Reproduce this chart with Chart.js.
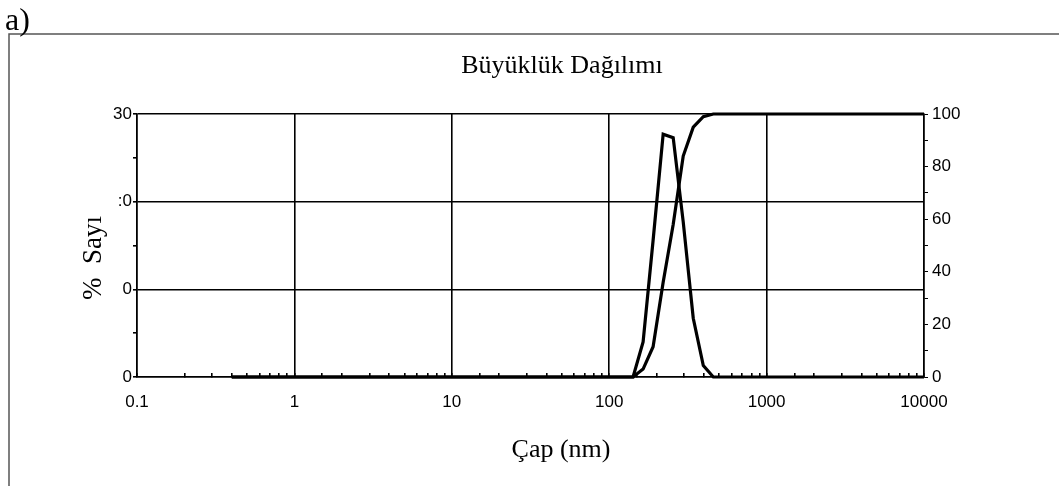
<!DOCTYPE html>
<html>
<head>
<meta charset="utf-8">
<script src="https://cdn.jsdelivr.net/npm/chart.js@4.4.1/dist/chart.umd.min.js"></script>
<style>
  html, body { margin: 0; padding: 0; background: #fff; }
</style>
</head>
<body>
<canvas id="sizeChart" width="1059" height="486"></canvas>
<script>
// size bins (nm)
const sizesNm = [
    0.4, 0.4632, 0.5365, 0.6213, 0.7195, 0.8332, 0.9649, 1.117, 1.294, 1.499,
    1.736, 2.01, 2.328, 2.696, 3.122, 3.615, 4.187, 4.849, 5.615, 6.503,
    7.531, 8.721, 10.1, 11.7, 13.54, 15.69, 18.17, 21.04, 24.36, 28.21,
    32.67, 37.84, 43.82, 50.75, 58.77, 68.06, 78.82, 91.28, 105.7, 122.4,
    141.8, 164.2, 190.1, 220.2, 255, 295.3, 342, 396.1, 458.7, 531.2,
    615.1, 712.4, 825, 955.4, 1106, 1281, 1484, 1718, 1990, 2305,
    2669, 3091, 3580, 4145, 4801, 5560, 6439, 7456, 8635, 10000
];
// % number (left axis)
const numberPct = [
    0, 0, 0, 0, 0, 0, 0, 0, 0, 0,
    0, 0, 0, 0, 0, 0, 0, 0, 0, 0,
    0, 0, 0, 0, 0, 0, 0, 0, 0, 0,
    0, 0, 0, 0, 0, 0, 0, 0, 0, 0,
    0, 4.0, 15.6, 27.7, 27.3, 17.7, 6.7, 1.3, 0, 0,
    0, 0, 0, 0, 0, 0, 0, 0, 0, 0,
    0, 0, 0, 0, 0, 0, 0, 0, 0, 0
];
// cumulative % (right axis)
const cumulativePct = [
    0, 0, 0, 0, 0, 0, 0, 0, 0, 0,
    0, 0, 0, 0, 0, 0, 0, 0, 0, 0,
    0, 0, 0, 0, 0, 0, 0, 0, 0, 0,
    0, 0, 0, 0, 0, 0, 0, 0, 0, 0,
    0, 3, 11.5, 36, 58, 84, 95, 99, 100, 100,
    100, 100, 100, 100, 100, 100, 100, 100, 100, 100,
    100, 100, 100, 100, 100, 100, 100, 100, 100, 100
];
const xTickLabels = ['0.1', '1', '10', '100', '1000', '10000'];
const leftTickLabels = ['0', '0', ':0', '30'];   // as printed (cut off) in the original
const rightTickLabels = ['0', '20', '40', '60', '80', '100'];

const panelLabel = 'a)';
const chartTitle = 'Büyüklük Dağılımı';
const xTitle = 'Çap (nm)';
const yTitle = '%  Sayı';

const serif = '"Liberation Serif", "Times New Roman", serif';
const sans = '"Liberation Sans", Arial, sans-serif';

function isDecade(v) {
    const l = Math.log10(v);
    return Math.abs(l - Math.round(l)) < 1e-6;
}

const decorations = {
    id: 'decorations',
    beforeDraw(chart) {
        const ctx = chart.ctx;
        ctx.save();
        ctx.fillStyle = '#fff';
        ctx.fillRect(0, 0, chart.width, chart.height);
        ctx.restore();
    },
    afterDraw(chart) {
        const ctx = chart.ctx;
        ctx.save();
        // frame
        ctx.strokeStyle = '#555';
        ctx.lineWidth = 1.5;
        ctx.beginPath();
        ctx.moveTo(9, 486);
        ctx.lineTo(9, 34);
        ctx.lineTo(1059, 34);
        ctx.stroke();

        ctx.fillStyle = '#000';
        ctx.textBaseline = 'alphabetic';
        ctx.font = '32px ' + serif;
        ctx.textAlign = 'left';
        ctx.fillText(panelLabel, 5, 30);

        ctx.textAlign = 'center';
        ctx.font = '26px ' + serif;
        ctx.fillText(chartTitle, 562, 73);
        ctx.fillText(xTitle, 561, 457);

        ctx.font = '27px ' + serif;
        ctx.translate(101, 258);
        ctx.rotate(-Math.PI / 2);
        ctx.fillText(yTitle, 0, 0);
        ctx.restore();
    }
};

const ctx = document.getElementById('sizeChart').getContext('2d');
new Chart(ctx, {
    type: 'line',
    data: {
        datasets: [
            {
                label: '% Sayı',
                data: sizesNm.map((s, i) => ({ x: s, y: numberPct[i] })),
                yAxisID: 'y',
                borderColor: '#000',
                borderWidth: 3.2,
                pointRadius: 0,
                tension: 0,
                fill: false,
                clip: 4
            },
            {
                label: 'Kümülatif',
                data: sizesNm.map((s, i) => ({ x: s, y: cumulativePct[i] })),
                yAxisID: 'y2',
                borderColor: '#000',
                borderWidth: 3.2,
                pointRadius: 0,
                tension: 0,
                fill: false,
                clip: 4
            }
        ]
    },
    options: {
        responsive: false,
        animation: false,
        layout: { padding: { top: 114, left: 0, right: 0, bottom: 69 } },
        plugins: {
            legend: { display: false },
            tooltip: { enabled: false },
            title: { display: false }
        },
        scales: {
            x: {
                type: 'logarithmic',
                min: 0.1,
                max: 10000,
                afterFit: (scale) => { scale.height = 40; },
                border: { color: '#000', width: 1.5 },
                grid: {
                    color: (c) => (c.tick && isDecade(c.tick.value)) ? '#000' : 'rgba(0,0,0,0)',
                    lineWidth: 1.6,
                    tickColor: '#000',
                    tickLength: -4
                },
                ticks: {
                    autoSkip: false,
                    maxRotation: 0,
                    padding: 19,
                    color: '#000',
                    font: { family: sans, size: 17 },
                    callback: (v) => isDecade(v) ? xTickLabels[Math.round(Math.log10(v)) + 1] : ''
                }
            },
            y: {
                position: 'left',
                min: 0,
                max: 30,
                afterFit: (scale) => { scale.width = 137; },
                border: { color: '#000', width: 1.5 },
                grid: {
                    color: (c) => (c.tick && c.tick.value % 10 === 0) ? '#000' : 'rgba(0,0,0,0)',
                    lineWidth: 1.6,
                    tickColor: '#000',
                    tickLength: 4
                },
                ticks: {
                    stepSize: 5,
                    padding: 1,
                    color: '#000',
                    font: { family: sans, size: 17 },
                    callback: (v) => v % 10 === 0 ? leftTickLabels[v / 10] : ''
                }
            },
            y2: {
                position: 'right',
                min: 0,
                max: 100,
                afterFit: (scale) => { scale.width = 135; },
                border: { color: '#000', width: 1.5 },
                grid: {
                    drawOnChartArea: false,
                    tickColor: '#000',
                    tickLength: 4
                },
                ticks: {
                    stepSize: 10,
                    padding: 4,
                    color: '#000',
                    font: { family: sans, size: 17 },
                    callback: (v) => v % 20 === 0 ? rightTickLabels[v / 20] : ''
                }
            }
        }
    },
    plugins: [decorations]
});
</script>
</body>
</html>
